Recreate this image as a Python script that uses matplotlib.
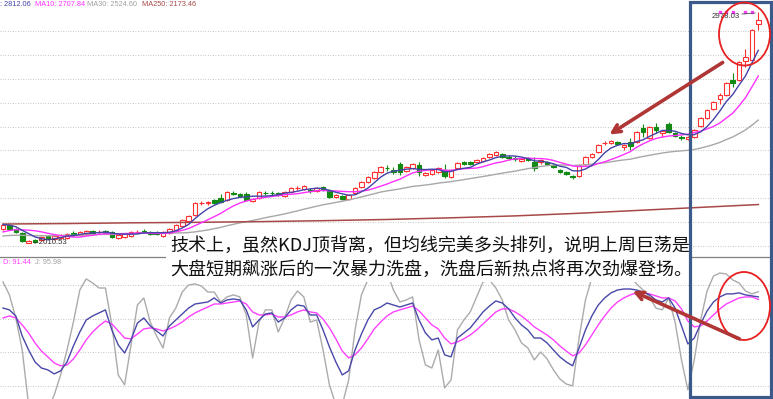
import numpy as np
import pandas as pd
import matplotlib.pyplot as plt
from matplotlib.patches import Rectangle, Ellipse

plt.rcParams['font.family'] = ['Liberation Sans', 'DejaVu Sans']

# daily candles (index 0..118)
opens = [2071, 2088, 2071, 2054, 2013, 2025, 2025, 2042, 2029, 2033,
         2033, 2054, 2046, 2050, 2063, 2058, 2063, 2059, 2033, 2038,
         2042, 2058, 2063, 2059, 2059, 2042, 2054, 2067, 2084, 2105,
         2130, 2179, 2178, 2192, 2201, 2192, 2222, 2218, 2218, 2188,
         2201, 2223, 2223, 2222, 2209, 2226, 2242, 2238, 2234, 2230,
         2247, 2234, 2205, 2209, 2197, 2222, 2247, 2268, 2285, 2310,
         2328, 2318, 2343, 2314, 2326, 2339, 2297, 2301, 2310, 2318,
         2289, 2326, 2351, 2351, 2351, 2356, 2372, 2381, 2385, 2372,
         2368, 2356, 2368, 2351, 2351, 2351, 2339, 2318, 2310, 2293,
         2293, 2343, 2372, 2393, 2430, 2431, 2435, 2414, 2435, 2435,
         2494, 2452, 2498, 2473, 2510, 2473, 2456, 2448, 2456, 2502,
         2536, 2573, 2615, 2632, 2695, 2695, 2774, 2778, 2929]
closes = [2088, 2071, 2059, 2021, 2021, 2017, 2038, 2033, 2042, 2046,
          2050, 2046, 2059, 2063, 2054, 2060, 2054, 2038, 2046, 2050,
          2059, 2060, 2059, 2050, 2050, 2059, 2071, 2088, 2109, 2126,
          2180, 2181, 2184, 2180, 2184, 2226, 2218, 2209, 2192, 2197,
          2226, 2220, 2220, 2213, 2226, 2243, 2244, 2251, 2230, 2243,
          2234, 2205, 2213, 2197, 2213, 2243, 2268, 2289, 2310, 2331,
          2325, 2310, 2310, 2331, 2343, 2310, 2305, 2318, 2326, 2293,
          2318, 2347, 2343, 2343, 2360, 2368, 2385, 2393, 2372, 2368,
          2364, 2364, 2360, 2326, 2360, 2343, 2331, 2310, 2301, 2289,
          2339, 2372, 2385, 2423, 2432, 2439, 2427, 2423, 2418, 2477,
          2477, 2498, 2485, 2481, 2477, 2460, 2452, 2456, 2485, 2536,
          2569, 2602, 2632, 2682, 2682, 2770, 2791, 2904, 2946]
highs = [2092, 2092, 2075, 2059, 2025, 2029, 2042, 2046, 2046, 2050,
         2054, 2063, 2063, 2067, 2067, 2066, 2067, 2063, 2050, 2054,
         2063, 2066, 2071, 2063, 2063, 2063, 2075, 2092, 2113, 2130,
         2184, 2188, 2188, 2196, 2218, 2230, 2230, 2222, 2226, 2201,
         2230, 2232, 2232, 2226, 2230, 2247, 2251, 2255, 2243, 2247,
         2251, 2238, 2218, 2213, 2218, 2247, 2272, 2293, 2314, 2335,
         2339, 2331, 2351, 2335, 2347, 2351, 2310, 2322, 2331, 2343,
         2322, 2351, 2356, 2356, 2364, 2372, 2389, 2398, 2389, 2381,
         2377, 2368, 2372, 2372, 2364, 2356, 2343, 2322, 2314, 2297,
         2343, 2377, 2389, 2427, 2439, 2443, 2439, 2427, 2452, 2481,
         2510, 2502, 2515, 2485, 2519, 2477, 2464, 2460, 2489, 2540,
         2573, 2606, 2640, 2686, 2724, 2774, 2824, 2908, 2978.03]
lows = [2067, 2067, 2054, 2017, 2010.53, 2013, 2021, 2029, 2025, 2029,
        2029, 2042, 2042, 2046, 2050, 2052, 2050, 2033, 2029, 2033,
        2038, 2053, 2054, 2046, 2046, 2038, 2050, 2063, 2080, 2101,
        2126, 2172, 2172, 2176, 2180, 2188, 2213, 2205, 2188, 2184,
        2197, 2212, 2214, 2209, 2205, 2222, 2236, 2234, 2222, 2226,
        2230, 2201, 2201, 2192, 2192, 2218, 2243, 2264, 2281, 2305,
        2314, 2301, 2297, 2310, 2322, 2293, 2293, 2297, 2305, 2285,
        2285, 2322, 2339, 2339, 2347, 2351, 2368, 2377, 2368, 2360,
        2356, 2351, 2356, 2314, 2343, 2339, 2326, 2305, 2297, 2281,
        2289, 2339, 2368, 2389, 2423, 2427, 2423, 2402, 2402, 2431,
        2456, 2448, 2473, 2456, 2473, 2456, 2444, 2444, 2452, 2498,
        2531, 2569, 2594, 2628, 2665, 2690, 2749, 2774, 2904]
# closes of the 29 sessions before the first visible candle (feed the MAs)
closes_before = [2010, 2025, 2040, 2032, 2045, 2050, 2038, 2028, 2020, 2030,
                 2042, 2048, 2035, 2025, 2030, 2040, 2038, 2030, 2032, 2032,
                 2015, 2020, 2030, 2035, 2040, 2085, 2092, 2095, 2090]
# MA250 at a few candles
ma250_idx = [0, 10, 20, 30, 40, 50, 60, 70, 80, 90, 100, 110, 118]
ma250 = [2092, 2094, 2097, 2099, 2102, 2106, 2111, 2118, 2126, 2137, 2150, 2163, 2173.46]
signal_idx = [112, 113, 114, 116, 117]
signal_val = [2979, 2979, 2979, 2979, 2979]
# values printed in the legends
ma_labels = [": 2812.06", "MA10: 2707.84", "MA30: 2524.60", "MA250: 2173.46"]
kdj_labels = ["D: 91.44", "J: 95.98"]

# KDJ
k_vals = [86.3, 85.2, 81.6, 69.7, 61.4, 54.3, 50.7, 49.6, 47.2, 49.0,
          54.3, 63.8, 72.1, 79.2, 81.6, 83.4, 85.2, 73.3, 64.4, 59.6,
          67.4, 77.4, 80.4, 75.7, 72.7, 69.7, 75.7, 79.2, 82.8, 86.3,
          88.7, 89.3, 89.9, 92.3, 89.3, 91.1, 91.7, 91.1, 85.2, 75.1,
          79.2, 82.8, 83.4, 78.0, 80.4, 85.2, 88.1, 87.5, 82.2, 82.2,
          73.3, 63.2, 54.3, 46.6, 49.0, 61.4, 70.9, 79.2, 85.2, 86.9,
          89.3, 88.1, 86.9, 88.1, 89.3, 79.2, 71.5, 67.4, 68.5, 58.5,
          57.3, 68.5, 71.5, 74.5, 79.2, 84.0, 87.5, 90.5, 89.3, 85.8,
          80.4, 76.3, 73.3, 68.5, 68.5, 65.6, 61.4, 57.3, 54.3, 52.0,
          62.6, 73.3, 81.6, 88.1, 92.3, 95.3, 97.0, 97.6, 97.6, 97.0,
          95.8, 94.1, 91.1, 89.9, 92.3, 86.3, 75.7, 65.0, 68.5, 76.9,
          84.6, 89.9, 92.9, 94.7, 94.7, 95.3, 94.1, 93.5, 92.95]
d_vals = [80.4, 81.6, 80.4, 76.3, 71.5, 65.6, 60.8, 57.3, 53.7, 52.0,
          52.5, 56.1, 61.4, 67.4, 72.1, 75.7, 78.6, 76.9, 72.7, 68.5,
          68.0, 70.9, 73.9, 74.5, 73.9, 72.7, 73.9, 75.7, 78.0, 81.0,
          83.4, 85.2, 86.9, 88.7, 88.7, 89.3, 89.9, 90.5, 88.7, 84.0,
          82.2, 82.2, 82.8, 81.0, 81.0, 82.2, 84.0, 85.2, 84.0, 83.4,
          79.8, 74.5, 68.0, 60.8, 56.7, 58.5, 62.6, 68.0, 73.9, 78.0,
          81.6, 84.0, 85.2, 86.3, 87.5, 84.6, 80.4, 76.3, 73.9, 68.5,
          65.0, 66.2, 68.0, 70.3, 73.3, 76.9, 80.4, 84.0, 85.8, 85.8,
          84.0, 81.6, 78.6, 75.1, 72.7, 70.3, 67.4, 63.8, 60.8, 57.9,
          59.6, 64.4, 70.3, 76.3, 81.6, 86.3, 89.9, 92.3, 94.1, 95.3,
          95.3, 94.7, 93.5, 92.3, 92.3, 90.5, 85.8, 78.6, 75.1, 75.7,
          78.6, 82.2, 85.8, 88.7, 90.5, 92.3, 92.9, 92.9, 91.44]
j_vals = [101.8, 94.1, 80.4, 61.4, 28.8, 25.8, 25.8, 25.8, 34.7, 46.6,
          61.4, 78.0, 97.0, 103.6, 101.2, 98.2, 98.2, 76.3, 46.6, 40.7,
          64.4, 88.1, 92.3, 78.0, 69.7, 62.6, 80.4, 86.3, 95.8, 100.0,
          100.6, 99.4, 95.8, 95.8, 89.9, 92.9, 94.1, 92.9, 82.2, 56.7,
          78.0, 85.2, 85.2, 72.1, 80.4, 91.1, 96.4, 92.9, 78.0, 79.2,
          61.4, 40.7, 28.8, 28.8, 43.6, 73.3, 94.1, 103.0, 106.5, 107.1,
          107.7, 97.0, 89.9, 91.1, 92.9, 67.4, 52.5, 50.7, 61.4, 38.9,
          43.6, 73.3, 79.2, 84.0, 92.9, 101.8, 103.0, 98.2, 91.1, 79.2,
          73.3, 65.6, 62.6, 55.5, 60.2, 56.1, 49.6, 44.2, 41.2, 40.1,
          68.5, 91.1, 104.2, 111.9, 113.7, 113.1, 111.3, 108.3, 104.7, 100.6,
          97.0, 92.9, 86.3, 85.2, 92.3, 78.0, 55.5, 37.7, 55.5, 79.2,
          96.4, 105.3, 107.1, 106.5, 103.0, 101.2, 96.4, 94.7, 95.98]

line1 = "技术上，虽然KDJ顶背离，但均线完美多头排列，说明上周巨荡是"
line2 = "大盘短期飙涨后的一次暴力洗盘，洗盘后新热点将再次劲爆登场。"

RED = '#ff3030'
GREEN = '#108a10'
GRID = dict(color='#b4b4b4', lw=0.6, ls=(0, (1, 2)), zorder=0)

W, H = 773, 399
fig = plt.figure(figsize=(W / 100, H / 100), dpi=100)

# price panel
ax = fig.add_axes([0, 143 / H, 1, 256 / H])
x = np.arange(len(closes))
o = np.array(opens, float)
c = np.array(closes, float)
hi = np.array(highs, float)
lo = np.array(lows, float)
for i in x:
    up = c[i] >= o[i]
    col = RED if up else GREEN
    ax.vlines(i, lo[i], hi[i], color=col, lw=0.8, zorder=3)
    b = min(o[i], c[i])
    h = max(abs(c[i] - o[i]), 0.6)
    ax.add_patch(Rectangle((i - 0.36, b), 0.72, h, facecolor='white' if up else GREEN,
                           edgecolor=col, lw=0.8, zorder=4))

allc = pd.Series(closes_before + closes, dtype=float)
n0 = len(closes_before)
ma5 = allc.rolling(5).mean().values[n0:]
ma10 = allc.rolling(10).mean().values[n0:]
ma30 = allc.rolling(30).mean().values[n0:]
ax.plot(x, ma30, color='#a8a8a8', lw=1, zorder=5)
ax.plot(ma250_idx, ma250, color='#a84848', lw=1.1, zorder=5)
ax.plot(x, ma10, color='#ff30ff', lw=1, zorder=5)
ax.plot(x, ma5, color='#4444a8', lw=1, zorder=6)
ax.scatter(signal_idx, signal_val, marker='s', s=3, color='#ff40ff', zorder=6)

for p in range(2000, 3000, 100):
    ax.axhline(p, **GRID)
ax.set_xlim(-0.47, 120.3)
ax.set_ylim(1958.2, 3029.3)
ax.axis('off')

# KDJ panel
bx = fig.add_axes([0, 0, 1, 142 / H])
bx.plot(x, j_vals, color='#ababab', lw=1)
bx.plot(x, d_vals, color='#ff40ff', lw=1)
bx.plot(x, k_vals, color='#4848a8', lw=1)
for v in [40, 60, 80, 100]:
    bx.axhline(v, **GRID)
bx.set_xlim(-0.47, 120.3)
bx.set_ylim(32.3, 116.6)
bx.axis('off')

# overlay in pixel coordinates
ov = fig.add_axes([0, 0, 1, 1])
ov.set_xlim(0, W)
ov.set_ylim(H, 0)
ov.axis('off')
ov.patch.set_alpha(0)

ov.plot([0, W], [256.5, 256.5], color='#808080', lw=0.9)

fs = 5.3
ma_colors = ['#4444a8', '#ff30ff', '#a0a0a0', '#a84848']
for lx, txt, col in zip([0, 35, 87, 142], ma_labels, ma_colors):
    ov.text(lx, 5, txt, color=col, fontsize=fs, va='center')
ov.text(3, 263, kdj_labels[0], color='#ff40ff', fontsize=fs, va='center')
ov.text(35, 263, kdj_labels[1], color='#a0a0a0', fontsize=fs, va='center')

ov.text(31, 243, "\u2190%.2f" % lows[4], color='#303030', fontsize=5.6, va='center')
ov.text(712, 17, "%.2f" % highs[-1], color='#303030', fontsize=5.6, va='center')
ov.plot([742, 755], [14, 13], color='#505050', lw=0.6)

# text box
ov.add_patch(Rectangle((166, 236), 526, 46, facecolor='white', edgecolor='none', zorder=3))
cjk = ['Noto Sans CJK SC', 'DejaVu Sans']
ov.text(170, 246, line1, fontsize=13, family=cjk, color='#111111', va='center', zorder=4)
ov.text(170, 270, line2, fontsize=13, family=cjk, color='#111111', va='center', zorder=4)

# highlight frame, circles, arrows
ov.add_patch(Rectangle((689.5, 2), 81, 395, facecolor='none', edgecolor='#3b5a8a', lw=2.3, zorder=6))
ov.add_patch(Ellipse((744.5, 34), 51, 63, facecolor='none', edgecolor='#e82020', lw=1.3, zorder=6))
ov.add_patch(Ellipse((744, 306), 52, 68, facecolor='none', edgecolor='#e82020', lw=1.3, zorder=6))
arrow = dict(arrowstyle='->', color='#b03535', lw=2.6, mutation_scale=14)
ov.annotate('', xy=(607, 136), xytext=(725, 61), arrowprops=arrow, zorder=7)
ov.annotate('', xy=(630, 290), xytext=(742, 340), arrowprops=arrow, zorder=7)

fig.savefig('out.png', dpi=100)
